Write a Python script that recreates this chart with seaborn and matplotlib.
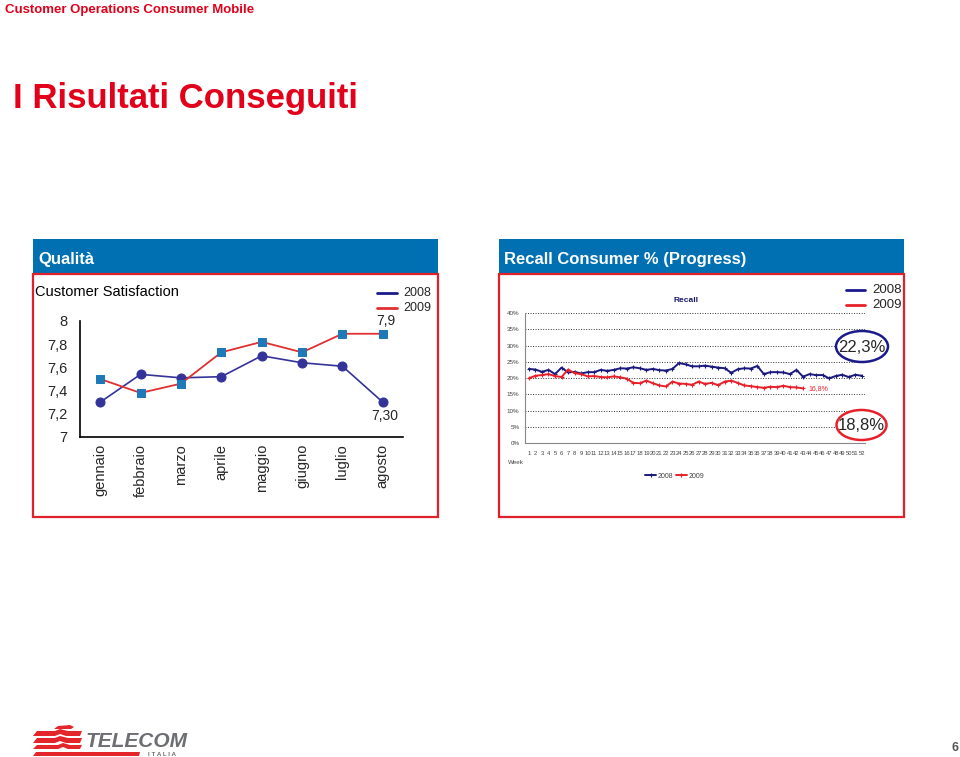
import numpy as np
import matplotlib
matplotlib.use("Agg")
import matplotlib.pyplot as plt
import seaborn as sns
from matplotlib.patches import Rectangle, Ellipse, Polygon
from matplotlib.lines import Line2D

# ---------------- data ----------------
months = ['gennaio', 'febbraio', 'marzo', 'aprile', 'maggio', 'giugno', 'luglio', 'agosto']
sat_2008 = [7.30, 7.54, 7.51, 7.52, 7.70, 7.64, 7.61, 7.30]
sat_2009 = [7.50, 7.38, 7.46, 7.73, 7.82, 7.73, 7.89, 7.89]
sat_yticks = [7, 7.2, 7.4, 7.6, 7.8, 8]
sat_ylabels = ['7', '7,2', '7,4', '7,6', '7,8', '8']

weeks_2008 = list(range(1, 53))
recall_2008 = [22.8, 22.6, 21.9, 22.5, 21.2, 23.2, 21.7, 21.9, 21.4, 21.8,
               21.8, 22.5, 22.2, 22.5, 23.0, 22.9, 23.3, 23.0, 22.5, 22.8,
               22.4, 22.3, 22.8, 24.6, 24.2, 23.6, 23.6, 23.8, 23.5, 23.2,
               23.0, 21.6, 22.7, 23.0, 22.9, 23.7, 21.2, 21.8, 21.8, 21.7,
               21.2, 22.5, 20.4, 21.2, 20.9, 20.9, 19.9, 20.6, 21.0, 20.3,
               21.0, 20.7]
weeks_2009 = list(range(1, 44))
recall_2009 = [19.9, 20.7, 20.9, 21.2, 20.6, 20.3, 22.6, 21.5, 21.2, 20.5,
               20.6, 20.3, 20.2, 20.5, 20.2, 19.8, 18.5, 18.4, 19.2, 18.4,
               17.7, 17.4, 18.9, 18.3, 18.2, 17.9, 18.9, 18.2, 18.5, 17.8,
               18.9, 19.2, 18.5, 17.7, 17.5, 17.2, 17.0, 17.3, 17.2, 17.6,
               17.2, 17.1, 16.8]
recall_yticks = [0, 5, 10, 15, 20, 25, 30, 35, 40]
recall_ylabels = ['0%', '5%', '10%', '15%', '20%', '25%', '30%', '35%', '40%']
recall_last_label = '16,8%'
recall_2008_avg = '22,3%'
recall_2009_avg = '18,8%'

# ---------------- style ----------------
sns.set_theme(style="white")
plt.rcParams['font.family'] = ['Liberation Sans', 'DejaVu Sans']

RED = '#e2001a'
BOXRED = '#e0202a'
BLUE = '#0070b2'
NAVY = '#333399'
SQ = '#1f78b8'
LRED = '#e03030'
RNAVY = '#1a1a7e'
RRED = '#e8202a'

W, H = 960, 757
fig = plt.figure(figsize=(9.6, 7.57), dpi=100)


def px_axes(x0, y0, x1, y1):
    return fig.add_axes([x0 / W, 1 - y1 / H, (x1 - x0) / W, (y1 - y0) / H])

# ---------------- left chart: Customer Satisfaction ----------------
ax1 = px_axes(80, 321, 403, 437)
ax1.patch.set_alpha(0)
xs = np.arange(len(months))
sns.lineplot(x=xs, y=sat_2008, ax=ax1, color=NAVY, linewidth=1.2, marker='o',
             markersize=6.5, markerfacecolor=NAVY, markeredgecolor=NAVY)
sns.lineplot(x=xs, y=sat_2009, ax=ax1, color=LRED, linewidth=1.3, marker='s',
             markersize=6, markerfacecolor=SQ, markeredgecolor=SQ)
ax1.set_xlim(-0.5, 7.5)
ax1.set_ylim(7, 8)
ax1.set_yticks(sat_yticks)
ax1.set_yticklabels(sat_ylabels, fontsize=10.5)
ax1.set_xticks(xs)
ax1.set_xticklabels(months, rotation=90, fontsize=10.5, va='top')
ax1.tick_params(axis='y', length=0, pad=9)
ax1.tick_params(axis='x', length=0, pad=5)
for s in ['top', 'right']:
    ax1.spines[s].set_visible(False)
for s in ['left', 'bottom']:
    ax1.spines[s].set_color('black')
    ax1.spines[s].set_linewidth(1.2)
ax1.set_xlabel('')
ax1.set_ylabel('')
ax1.annotate('7,9', xy=(7, sat_2009[-1]), xytext=(3, 13), textcoords='offset pixels',
             ha='center', va='center', fontsize=10)
ax1.annotate('7,30', xy=(7, sat_2008[-1]), xytext=(2, -14), textcoords='offset pixels',
             ha='center', va='center', fontsize=10)

# ---------------- right chart: Recall ----------------
ax2 = px_axes(525, 313, 865, 443)
ax2.patch.set_alpha(0)
sns.lineplot(x=weeks_2008, y=recall_2008, ax=ax2, color=RNAVY, linewidth=1.4,
             marker='+', markersize=3, markeredgewidth=0.8,
             markeredgecolor=RNAVY, markerfacecolor=RNAVY, label='2008')
sns.lineplot(x=weeks_2009, y=recall_2009, ax=ax2, color=RRED, linewidth=1.4,
             marker='+', markersize=3, markeredgewidth=0.8,
             markeredgecolor=RRED, markerfacecolor=RRED, label='2009')
ax2.set_xlim(0.4, 52.5)
ax2.set_ylim(0, 40)
ax2.set_yticks(recall_yticks)
ax2.set_yticklabels(recall_ylabels, fontsize=4.5, color='#444444')
ax2.set_xticks(weeks_2008)
ax2.set_xticklabels([str(w) for w in weeks_2008], fontsize=4.2, color='#444444')
ax2.tick_params(axis='y', length=2, width=0.5, pad=2, color='#777777')
ax2.tick_params(axis='x', length=2, width=0.5, pad=4, color='#777777')
ax2.yaxis.grid(True, linestyle=(0, (1, 1.6)), color='#333333', linewidth=0.7)
ax2.set_axisbelow(True)
for s in ['top', 'right']:
    ax2.spines[s].set_visible(False)
for s in ['left', 'bottom']:
    ax2.spines[s].set_color('#888888')
    ax2.spines[s].set_linewidth(0.8)
ax2.set_xlabel('')
ax2.set_ylabel('')
ax2.annotate(recall_last_label, xy=(weeks_2009[-1], recall_2009[-1]), xytext=(5, 0),
             textcoords='offset pixels', ha='left', va='center', fontsize=5, color=RRED)
ax2.legend(loc='center', bbox_to_anchor=(0.44, -0.255), ncol=2, frameon=False,
           fontsize=5, handlelength=1.6, columnspacing=0.4, handletextpad=0.2,
           labelcolor='#444444')

# ---------------- overlay (slide decorations) ----------------
ov = px_axes(0, 0, W, H)
ov.set_xlim(0, W)
ov.set_ylim(H, 0)
ov.axis('off')

ov.text(5, 13, 'Customer Operations Consumer Mobile', color=RED, fontsize=9.5,
        fontweight='bold', ha='left', va='baseline')
ov.text(13, 108, 'I Risultati Conseguiti', color=RED, fontsize=25,
        fontweight='bold', ha='left', va='baseline')

# panel headers
for x0, title in [(33, 'Qualità'), (499, 'Recall Consumer % (Progress)')]:
    ov.add_patch(Rectangle((x0, 239), 405, 35, facecolor=BLUE, edgecolor='none'))
    ov.text(x0 + 5, 264, title, color='white', fontsize=12, fontweight='bold',
            ha='left', va='baseline')
    ov.add_patch(Rectangle((x0, 274), 405, 243, facecolor='none',
                           edgecolor=BOXRED, linewidth=1.6))

ov.text(35, 296, 'Customer Satisfaction', fontsize=10.5, ha='left', va='baseline',
        color='black')

# left legend
ov.add_line(Line2D([377, 397], [293, 293], color='#1a1a8c', linewidth=2))
ov.add_line(Line2D([377, 397], [308, 308], color=LRED, linewidth=2))
ov.text(403, 293, '2008', fontsize=9, va='center', ha='left')
ov.text(403, 308, '2009', fontsize=9, va='center', ha='left')

# right legend
ov.add_line(Line2D([846, 865], [290, 290], color='#1a1a8c', linewidth=2))
ov.add_line(Line2D([846, 865], [305, 305], color=RRED, linewidth=2))
ov.text(872, 290, '2008', fontsize=9.5, va='center', ha='left')
ov.text(872, 305, '2009', fontsize=9.5, va='center', ha='left')

# inner chart texts
ov.text(686, 301, 'Recall', fontsize=6, fontweight='bold', color='#1a1a6e',
        ha='center', va='center')
ov.text(508, 462, 'Week', fontsize=4.5, color='#444444', ha='left', va='center')

# highlighted averages
ov.add_patch(Ellipse((862, 346.5), 52, 31, facecolor='white', edgecolor='#1a1a8c',
                     linewidth=1.8))
ov.text(862, 347, recall_2008_avg, fontsize=12, ha='center', va='center')
ov.add_patch(Ellipse((861.5, 425), 50, 30, facecolor='white', edgecolor=RRED,
                     linewidth=1.8))
ov.text(861.5, 425, recall_2009_avg, fontsize=12, ha='center', va='center')

# logo
LOGORED = '#e3262b'
bands = [
    [(54, 729), (58, 726), (70, 725), (74, 727), (71, 729)],
    [(33, 736), (37, 731), (55, 731), (60, 729), (68, 731), (82, 731), (80, 736), (66, 736), (60, 734), (55, 736)],
    [(33, 743), (37, 738), (55, 738), (60, 736), (68, 738), (82, 738), (80, 743), (66, 743), (60, 741), (55, 743)],
    [(33, 749), (37, 745), (58, 745), (63, 743), (70, 745), (82, 745), (80, 749), (68, 749), (63, 747), (58, 749)],
    [(33, 756), (36, 752), (140, 752), (139, 756)],
]
for b in bands:
    ov.add_patch(Polygon(b, closed=True, facecolor=LOGORED, edgecolor='none'))
ov.text(86, 747, 'TELECOM', fontsize=15, fontweight='bold', fontstyle='italic',
        color='#6d6e71', ha='left', va='baseline')
ov.text(148, 756, 'I T A L I A', fontsize=4.5, fontweight='bold', color='#6d6e71',
        ha='left', va='baseline')

ov.text(955, 748, '6', fontsize=9, fontweight='bold', color='#555555',
        ha='center', va='center')

fig.savefig('out.png', dpi=100)
